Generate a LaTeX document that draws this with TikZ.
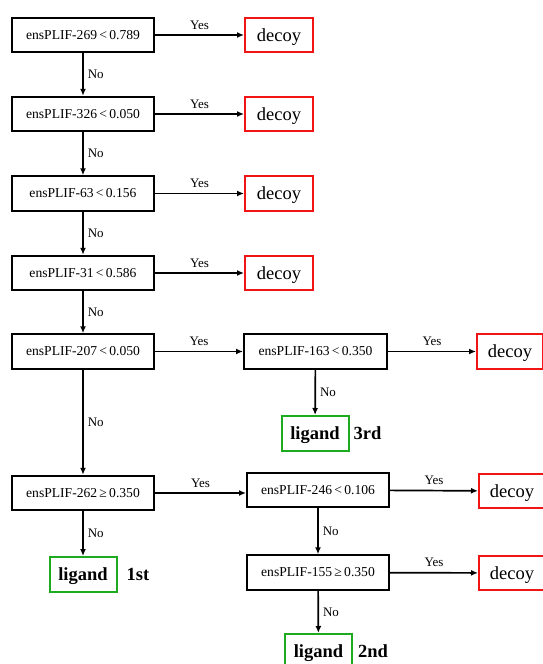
\documentclass[tikz,border=0pt]{standalone}
\usepackage{fontspec}
\setmainfont{Liberation Serif}
\usetikzlibrary{arrows.meta}
\definecolor{decoyred}{RGB}{240,20,20}
\definecolor{ligreen}{RGB}{30,170,30}
\tikzset{
  cond/.style={draw=black, line width=2pt, minimum width=142pt, minimum height=34.5pt, inner sep=0pt, font=\fontsize{13.6}{15}\selectfont},
  decoybox/.style={draw=decoyred, line width=2pt, minimum width=68pt, minimum height=34.5pt, inner sep=0pt, text height=12.5pt, text depth=0pt, font=\fontsize{18.5}{21}\selectfont},
  ligbox/.style={draw=ligreen, line width=2pt, minimum width=67pt, minimum height=35pt, inner sep=0pt, text height=12pt, text depth=0pt, font=\fontsize{18.5}{21}\selectfont\bfseries},
  rank/.style={font=\fontsize{18.5}{21}\selectfont\bfseries, anchor=base west, inner sep=0pt},
  arr/.style={line width=1.7pt, -{Latex[length=7pt,width=6pt]}},
  lab/.style={font=\fontsize{13}{15}\selectfont, inner sep=2pt},
}
\begin{document}
\begin{tikzpicture}[x=1pt,y=-1pt]
\useasboundingbox (0,0) rectangle (543,664);
\clip (0,0) rectangle (543,664);
% left column
\node[cond] (c1) at (83,35) {ensPLIF-269\,<\,0.789};
\node[cond] (c2) at (83,114) {ensPLIF-326\,<\,0.050};
\node[cond] (c3) at (83,193.5) {ensPLIF-63\,<\,0.156};
\node[cond] (c4) at (83,273) {ensPLIF-31\,<\,0.586};
\node[cond] (c5) at (83,351.5) {ensPLIF-207\,<\,0.050};
\node[cond] (c6) at (83,493) {ensPLIF-262\,≥\,0.350};
\node[decoybox] (d1) at (279,35) {decoy};
\node[decoybox] (d2) at (279,114) {decoy};
\node[decoybox] (d3) at (279,193.5) {decoy};
\node[decoybox] (d4) at (279,273) {decoy};
% middle column
\node[cond, minimum width=143pt] (m1) at (315.5,351.5) {ensPLIF-163\,<\,0.350};
\node[cond] (m2) at (318,490) {ensPLIF-246\,<\,0.106};
\node[cond] (m3) at (318,572.5) {ensPLIF-155\,≥\,0.350};
% right decoys
\node[decoybox, minimum width=66pt] (r1) at (510,351.5) {decoy};
\node[decoybox, minimum width=66pt] (r2) at (512,491) {decoy};
\node[decoybox, minimum width=66pt] (r3) at (512,573) {decoy};
% ligands
\node[ligbox] (l3) at (315,433.5) {ligand};
\node[rank] (k3) at ([xshift=4pt]l3.base east) {3rd};
\node[ligbox] (l1) at (83,574.5) {ligand};
\node[rank] (k1) at ([xshift=9pt]l1.base east) {1st};
\node[ligbox] (l2) at (318.5,651.5) {ligand};
\node[rank] (k2) at ([xshift=5pt]l2.base east) {2nd};
% Yes arrows
\foreach \a/\b in {c1/d1,c2/d2,c3/d3,c4/d4,c5/m1,m1/r1,m2/r2,m3/r3}{
  \draw[arr] (\a) -- node[lab, above=3pt] {Yes} (\b);
}
\draw[arr] (c6.east) -- node[lab, above=3pt] {Yes} (c6.east -| m2.west);
% No arrows
\foreach \a/\b in {c1/c2,c2/c3,c3/c4,c4/c5,c5/c6,c6/l1,m1/l3,m2/m3,m3/l2}{
  \draw[arr] (\a) -- node[lab, right=2pt] {No} (\b);
}
\end{tikzpicture}
\end{document}
